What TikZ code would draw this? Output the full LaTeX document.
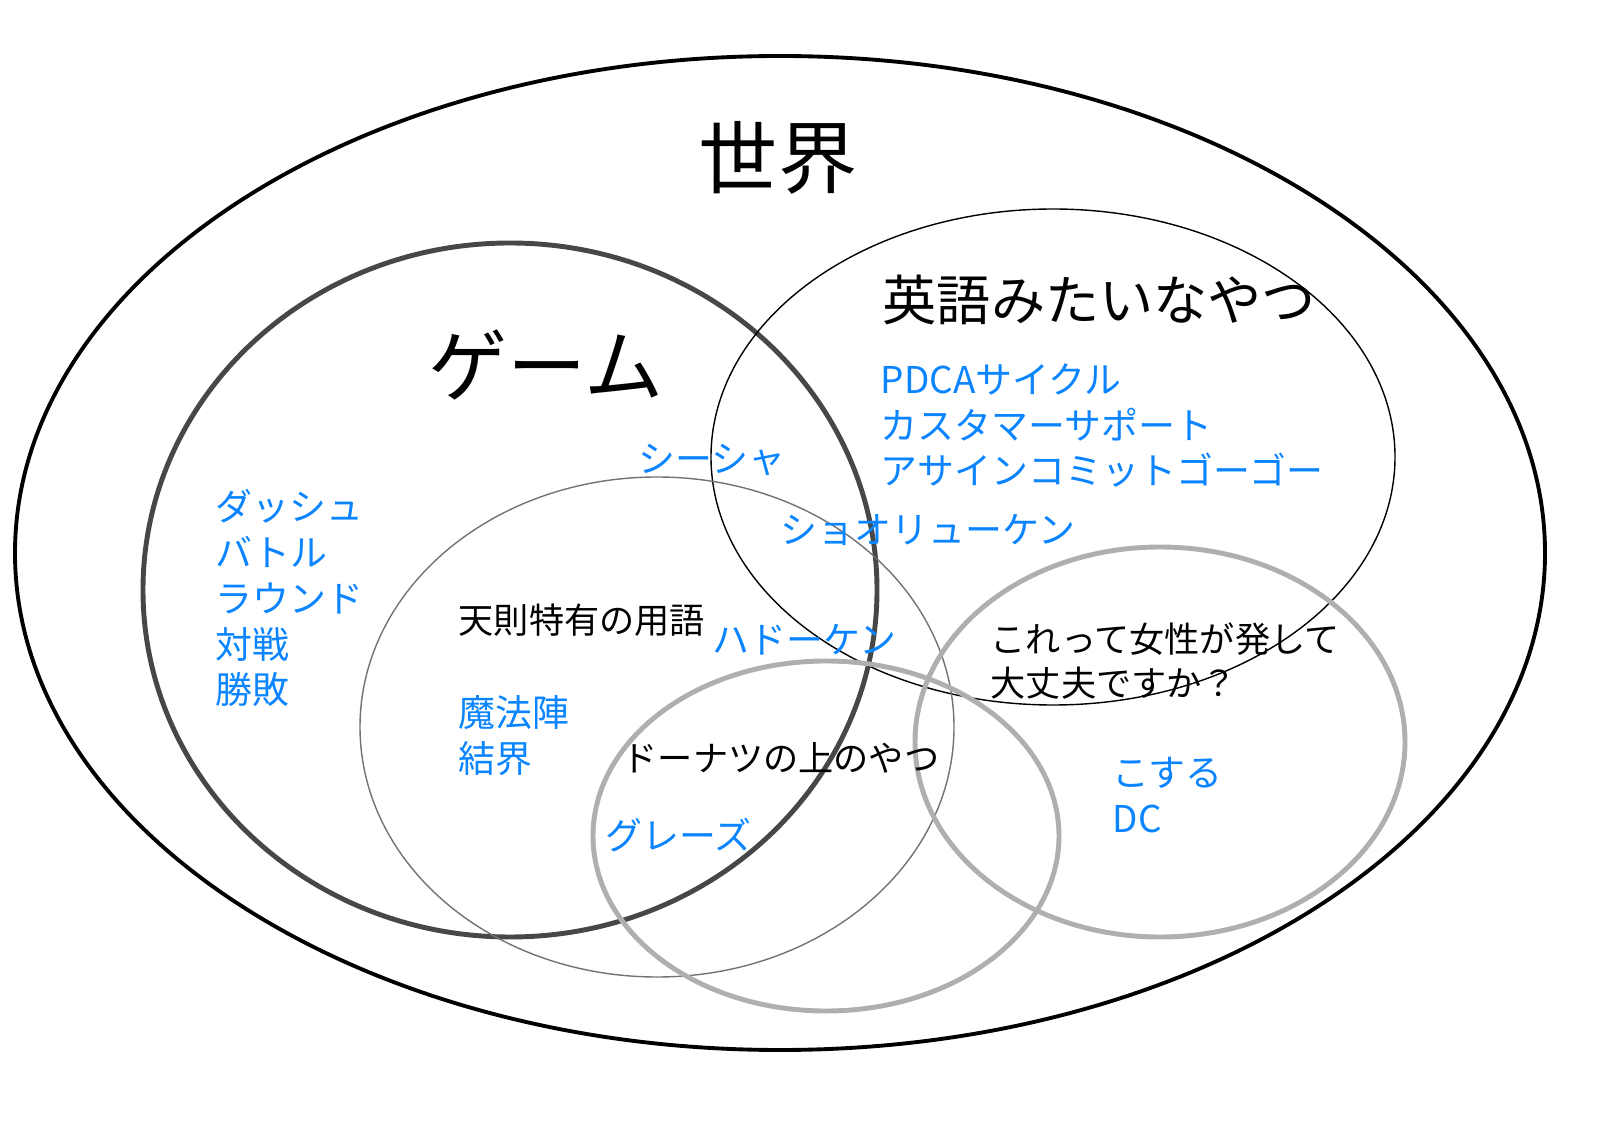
\documentclass[tikz,border=0pt]{standalone}
\usepackage{fontspec}
\setmainfont{Noto Sans CJK JP}
\definecolor{termblue}{RGB}{10,132,255}
\definecolor{ringgray}{RGB}{175,175,175}
\tikzset{
  blueterm/.style={anchor=west, inner sep=0pt, text=termblue, align=left,
    font=\fontsize{10.5pt}{13pt}\selectfont},
  blackterm/.style={anchor=west, inner sep=0pt, align=left,
    font=\fontsize{10pt}{12.6pt}\selectfont},
  bigtitle/.style={inner sep=0pt, font=\fontsize{22.5pt}{26pt}\selectfont}
}
\begin{document}
\begin{tikzpicture}[x=0.01cm, y=-0.01cm]
  \useasboundingbox (0,0) rectangle (1600,1131);

  % sets
  \draw [line width=1.1pt] (780,553) ellipse [x radius=765, y radius=497];
  \draw [line width=1.4pt, black!72] (510,590) ellipse [x radius=367, y radius=347];
  \draw [line width=0.4pt] (1053,457) ellipse [x radius=342, y radius=248];
  \draw [line width=0.4pt, black!55] (657,727) ellipse [x radius=297, y radius=250];
  \draw [line width=1.4pt, ringgray] (826,836) ellipse [x radius=233, y radius=175];
  \draw [line width=1.4pt, ringgray] (1160,742) ellipse [x radius=245, y radius=195];

  % titles
  \node [bigtitle] (world) at (778,158) {世界};
  \node [bigtitle, anchor=west] (game) at (428,365) {ゲーム};
  \node [anchor=west, inner sep=0pt, font=\fontsize{15.4pt}{18pt}\selectfont] (english) at (882,300) {英語みたいなやつ};
  \node [blackterm] (tensoku) at (458,620) {天則特有の用語};
  \node [blackterm] (donut) at (622,758) {ドーナツの上のやつ};
  \node [blackterm, anchor=north west] (josei) at (990,622) {これって女性が発して\\大丈夫ですか？};

  % terms
  \node [blueterm, anchor=north west] (gameterms) at (215,489) {ダッシュ\\バトル\\ラウンド\\対戦\\勝敗};
  \node [blueterm, anchor=north west] (engterms) at (880,363) {PDCAサイクル\\カスタマーサポート\\アサインコミットゴーゴー};
  \node [blueterm] (shisha) at (638,460) {シーシャ};
  \node [blueterm] (shoryu) at (780,530) {ショオリューケン};
  \node [blueterm] (hadou) at (712,640) {ハドーケン};
  \node [blueterm, anchor=north west] (mahou) at (458,695) {魔法陣\\結界};
  \node [blueterm] (graze) at (605,835) {グレーズ};
  \node [blueterm, anchor=north west] (kosuru) at (1112,757) {こする\\DC};
\end{tikzpicture}
\end{document}
